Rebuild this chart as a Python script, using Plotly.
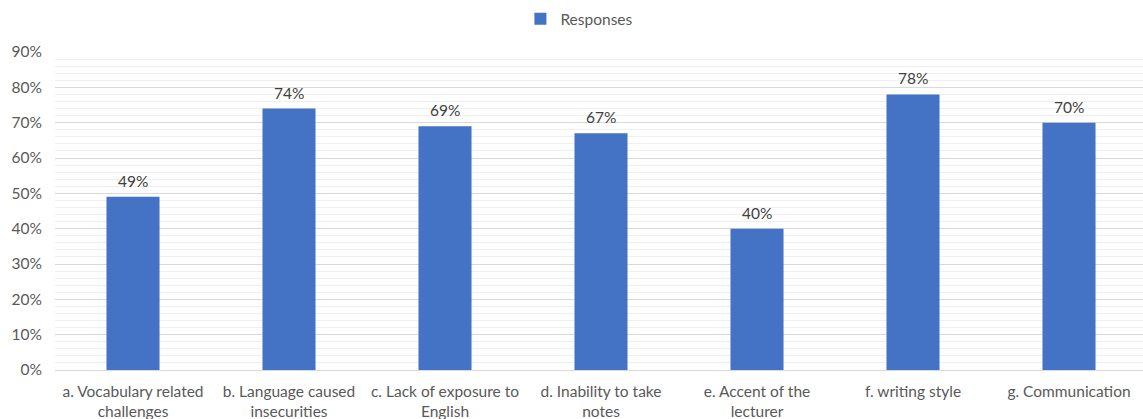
import plotly.graph_objects as go

categories = [
    "a. Vocabulary related<br>challenges",
    "b. Language caused<br>insecurities",
    "c. Lack of exposure to<br>English",
    "d. Inability to take<br>notes",
    "e. Accent of the<br>lecturer",
    "f. writing style",
    "g. Communication",
]
responses = [49, 74, 69, 67, 40, 78, 70]  # percent

values = [v / 100 for v in responses]
labels = [f"{v}%" for v in responses]

FONT = "Lato, Carlito, Calibri, sans-serif"
SIZE = 15.5

fig = go.Figure(
    go.Bar(
        x=list(range(len(categories))),
        y=values,
        name="Responses",
        marker=dict(color="#4472C4", line=dict(width=0)),
        width=0.34,
        cliponaxis=False,
    )
)

# value labels above each bar
for i, (v, t) in enumerate(zip(values, labels)):
    fig.add_annotation(
        x=i, y=v, text=t, showarrow=False,
        yanchor="bottom", yshift=5,
        font=dict(size=SIZE, color="#404040", family=FONT),
    )

fig.update_layout(
    width=1143,
    height=419,
    margin=dict(l=55, r=0, t=52, b=49),
    paper_bgcolor="white",
    plot_bgcolor="white",
    font=dict(family=FONT, size=SIZE, color="#595959"),
    showlegend=True,
    legend=dict(
        orientation="h",
        x=0.482,
        xanchor="center",
        y=0.995,
        yref="container",
        yanchor="top",
        font=dict(size=SIZE, color="#595959"),
        itemwidth=30,
    ),
)

fig.update_xaxes(
    tickmode="array",
    tickvals=list(range(len(categories))),
    ticktext=categories,
    range=[-0.5, -0.5 + 1088 / 156],
    showgrid=False,
    zeroline=False,
    showline=False,
    ticks="",
    ticklabelstandoff=10,
    tickfont=dict(size=SIZE, color="#595959"),
)

fig.update_yaxes(
    range=[0, 0.9],
    dtick=0.1,
    tickformat=".0%",
    showgrid=True,
    gridcolor="#d9d9d9",
    gridwidth=1,
    zeroline=True,
    zerolinecolor="#d9d9d9",
    zerolinewidth=1,
    ticks="",
    ticklabelstandoff=12,
    tickfont=dict(size=SIZE, color="#595959"),
    minor=dict(dtick=0.02, showgrid=True, gridcolor="#efefef", gridwidth=1),
)

fig.write_html("out.html")
